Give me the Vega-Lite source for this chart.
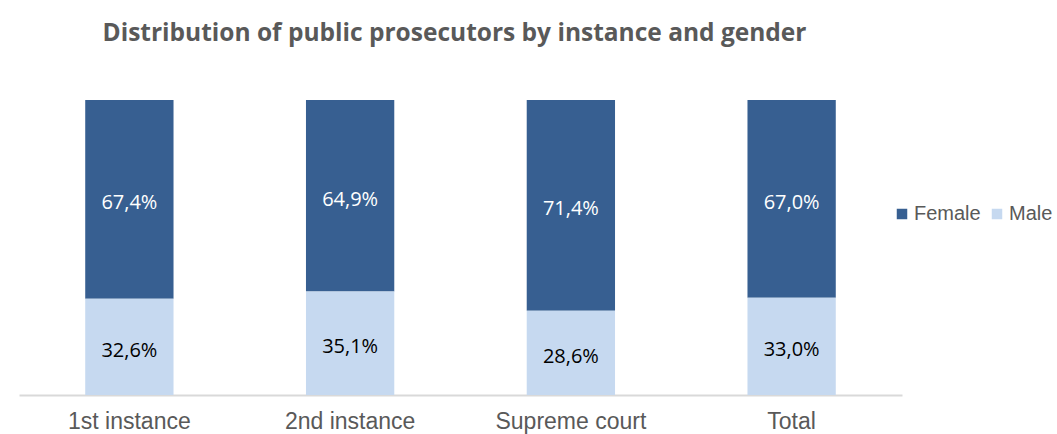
{
  "$schema": "https://vega.github.io/schema/vega-lite/v6.json",
  "width": 883,
  "height": 295,
  "autosize": "none",
  "padding": {"left": 19, "top": 100, "right": 155, "bottom": 39},
  "config": {
    "view": {"stroke": null},
    "locale": {"number": {"decimal": ",", "thousands": ".", "grouping": [3], "currency": ["", " €"]}}
  },
  "title": {
    "text": "Distribution of  public prosecutors by instance and gender",
    "font": "Open Sans",
    "fontSize": 24.5,
    "fontWeight": "bold",
    "color": "#595959",
    "anchor": "middle",
    "dx": -6,
    "offset": 54
  },
  "data": {
    "values": [
      {"instance": "1st instance", "gender": "Female", "share": 0.674},
      {"instance": "1st instance", "gender": "Male", "share": 0.326},
      {"instance": "2nd instance", "gender": "Female", "share": 0.649},
      {"instance": "2nd instance", "gender": "Male", "share": 0.351},
      {"instance": "Supreme court", "gender": "Female", "share": 0.714},
      {"instance": "Supreme court", "gender": "Male", "share": 0.286},
      {"instance": "Total", "gender": "Female", "share": 0.670},
      {"instance": "Total", "gender": "Male", "share": 0.330}
    ]
  },
  "encoding": {
    "x": {
      "field": "instance",
      "type": "nominal",
      "sort": null,
      "scale": {"paddingInner": 0.6, "paddingOuter": 0.3},
      "axis": {
        "title": null,
        "labelAngle": 0,
        "labelFont": "Liberation Sans",
        "labelFontSize": 23,
        "labelColor": "#595959",
        "labelPadding": 15,
        "ticks": false,
        "domainColor": "#D9D9D9",
        "domainWidth": 2
      }
    }
  },
  "layer": [
    {
      "mark": {"type": "bar"},
      "encoding": {
        "y": {"field": "share", "type": "quantitative", "stack": "zero", "scale": {"domain": [0, 1]}, "axis": null},
        "color": {
          "field": "gender",
          "type": "nominal",
          "scale": {"domain": ["Female", "Male"], "range": ["#375F91", "#C6D9F0"]},
          "legend": {
            "title": null,
            "orient": "none",
            "direction": "horizontal",
            "legendX": 873,
            "legendY": 104,
            "symbolType": "square",
            "symbolSize": 110,
            "symbolStrokeWidth": 0,
            "labelFont": "Liberation Sans",
            "labelFontSize": 20,
            "labelColor": "#595959",
            "columnPadding": 6,
            "labelOffset": 2
          }
        },
        "order": {"field": "gender", "sort": "descending"}
      }
    },
    {
      "mark": {"type": "text", "font": "Open Sans", "fontSize": 20, "dy": 4},
      "encoding": {
        "y": {"field": "share", "type": "quantitative", "stack": "zero", "bandPosition": 0.5},
        "text": {"field": "share", "type": "quantitative", "format": ".1%"},
        "color": {"condition": {"test": "datum.gender == 'Female'", "value": "#FFFFFF"}, "value": "#000000"},
        "order": {"field": "gender", "sort": "descending"}
      }
    }
  ]
}
